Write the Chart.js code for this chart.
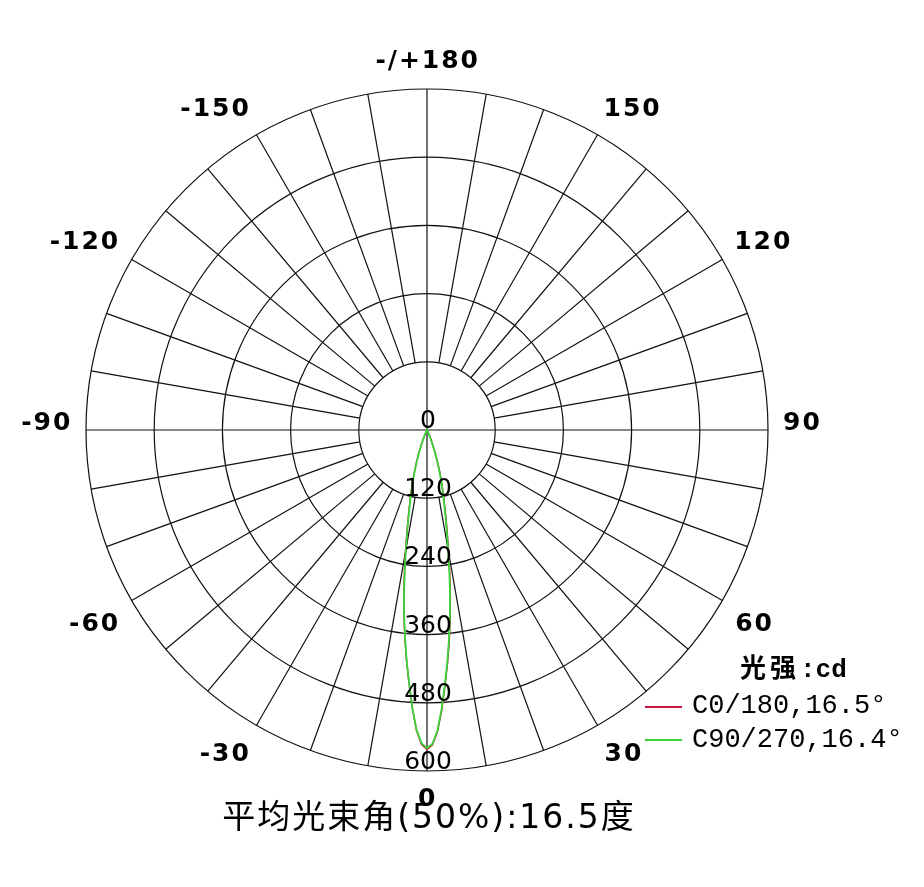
<!DOCTYPE html>
<html>
<head>
<meta charset="utf-8">
<title>配光曲线</title>
<script src="https://cdn.jsdelivr.net/npm/chart.js@4/dist/chart.umd.min.js"></script>
<style>
  html, body { margin: 0; padding: 0; background: #fff; }
  #wrap { position: relative; width: 924px; height: 887px; }
  #wrap canvas { position: absolute; left: 0; top: 0; }
  .txt { position: absolute; white-space: nowrap; color: #000; }
  #title { left: 0; width: 858px; top: 797px; text-align: center; font: 33px/40px "DejaVu Sans", "Noto Sans CJK SC", sans-serif; letter-spacing: 2px; }
  #unit { left: 740px; top: 650px; font: bold 26px/32px "Liberation Mono", "Noto Sans CJK SC", monospace; }
  #unit .cjk { font-family: "Noto Sans CJK SC", sans-serif; font-size: 26px; letter-spacing: 4px; }
  .lg { left: 692px; font: 27px/30px "Liberation Mono", "DejaVu Sans Mono", monospace; }
  .sw { position: absolute; left: 645px; width: 37px; height: 2px; }
</style>
</head>
<body>
<div id="wrap">
  <canvas id="c"></canvas>
  <div class="txt" id="title">平均光束角(50%):16.5度</div>
  <div class="txt" id="unit"><span class="cjk">光强</span>:cd</div>
  <div class="sw" style="top:706px;background:#c8153a;"></div>
  <div class="txt lg" style="top:691px;">C0/180,16.5°</div>
  <div class="sw" style="top:739px;background:#3ad33a;"></div>
  <div class="txt lg" style="top:725px;">C90/270,16.4°</div>
</div>
<script>
// Gamma angles (degrees) at which the intensity was measured
const gammaDeg = [
  -28, -27, -26, -25, -24, -23, -22, -21, -20, -19, -18, -17, -16, -15, -14,
  -13, -12, -11, -10, -9, -8, -7, -6, -5, -4, -3, -2, -1, 0,
  1, 2, 3, 4, 5, 6, 7, 8, 9, 10, 11, 12, 13, 14,
  15, 16, 17, 18, 19, 20, 21, 22, 23, 24, 25, 26, 27, 28
];

// Luminous intensity (cd), C0/180 plane
const c0Candela = [
  1, 2, 3, 6, 9, 14, 20, 28, 37, 48, 60, 73, 87, 102, 118,
  137, 160, 186, 218, 254, 292, 332, 371, 410, 449, 491, 529, 553, 562,
  554, 531, 494, 452, 413, 374, 335, 295, 256, 220, 188, 162, 139, 120,
  104, 89, 75, 61, 49, 38, 29, 21, 15, 10, 6, 4, 2, 1
];

// Luminous intensity (cd), C90/270 plane
const c90Candela = [
  1, 2, 3, 5, 8, 13, 19, 26, 35, 46, 58, 71, 85, 100, 115,
  134, 157, 182, 214, 250, 290, 330, 369, 409, 448, 490, 528, 551, 560,
  552, 529, 491, 449, 410, 370, 331, 291, 251, 215, 183, 158, 135, 116,
  101, 86, 72, 59, 47, 36, 27, 19, 13, 8, 5, 3, 2, 1
];

// Angle labels every 30 degrees, clockwise from the top of the diagram
const angleLabels = ['-/+180', '150', '120', '90', '60', '30', '0', '-30', '-60', '-90', '-120', '-150'];

// Radial tick values (cd)
const radialTicks = [0, 120, 240, 360, 480, 600];

// One radar category per degree; category i sits i degrees clockwise from the top,
// which corresponds to gamma = 180 - i.
const categories = [];
for (let i = 0; i < 360; i++) categories.push(180 - i);

function toSeries(values) {
  return categories.map(g => {
    const k = gammaDeg.indexOf(g);
    return k >= 0 ? values[k] : 0;
  });
}

const polarFrame = {
  id: 'polarFrame',
  beforeDatasetsDraw(chart) {
    const s = chart.scales.r;
    const ctx = chart.ctx;
    const rIn = s.getDistanceFromCenterForValue(radialTicks[1]);
    const rOut = s.getDistanceFromCenterForValue(radialTicks[radialTicks.length - 1]);
    ctx.save();
    ctx.strokeStyle = '#111';
    ctx.lineWidth = 1.2;
    for (let deg = 0; deg < 360; deg += 10) {
      const from = deg % 90 === 0 ? 0 : rIn;
      const a = s.getPointPosition(deg, from);
      const b = s.getPointPosition(deg, rOut);
      ctx.beginPath();
      ctx.moveTo(a.x, a.y);
      ctx.lineTo(b.x, b.y);
      ctx.stroke();
    }
    ctx.restore();
  },
  afterDatasetsDraw(chart) {
    const s = chart.scales.r;
    const ctx = chart.ctx;
    const rOut = s.getDistanceFromCenterForValue(radialTicks[radialTicks.length - 1]);
    ctx.save();
    ctx.fillStyle = '#000';
    ctx.textBaseline = 'alphabetic';

    // angle labels: the corner of each label nearest the circle sits on a ring just outside it
    ctx.font = 'bold 25px "DejaVu Sans"';
    if ('letterSpacing' in ctx) ctx.letterSpacing = '2px';
    const capH = 18;
    angleLabels.forEach((txt, k) => {
      const idx = k * 30;
      const ang = idx * Math.PI / 180;
      const sn = Math.sin(ang), cs = Math.cos(ang);
      const p = s.getPointPosition(idx, rOut + 16);
      const m = ctx.measureText(txt);
      const inkW = m.actualBoundingBoxLeft + m.actualBoundingBoxRight;
      let left;
      if (sn > 0.01) left = p.x;
      else if (sn < -0.01) left = p.x - inkW;
      else left = p.x - inkW / 2;
      let base;
      if (cs >= -0.01) base = p.y - 5 * cs;
      else base = p.y + capH + (Math.abs(sn) > 0.01 ? 4 : 1);
      ctx.textAlign = 'left';
      ctx.fillText(txt, left + m.actualBoundingBoxLeft, base);
    });

    // radial tick labels down the 0 degree axis
    ctx.font = '25px "DejaVu Sans"';
    if ('letterSpacing' in ctx) ctx.letterSpacing = '0px';
    ctx.textAlign = 'center';
    radialTicks.forEach(v => {
      const p = s.getPointPosition(180, s.getDistanceFromCenterForValue(v));
      ctx.fillText(String(v), p.x + 1, p.y - 2);
    });
    ctx.restore();
  }
};

new Chart(document.getElementById('c'), {
  type: 'radar',
  data: {
    labels: categories,
    datasets: [
      {
        label: 'C0/180,16.5°',
        data: toSeries(c0Candela),
        borderColor: '#c8153a',
        borderWidth: 1.5,
        pointRadius: 0,
        fill: false,
        order: 2
      },
      {
        label: 'C90/270,16.4°',
        data: toSeries(c90Candela),
        borderColor: '#3ad33a',
        borderWidth: 1.8,
        pointRadius: 0,
        fill: false,
        order: 1
      }
    ]
  },
  options: {
    responsive: true,
    maintainAspectRatio: false,
    animation: false,
    layout: { padding: { left: 86, right: 156, top: 89, bottom: 116 } },
    plugins: { legend: { display: false }, title: { display: false }, tooltip: { enabled: false } },
    elements: { line: { tension: 0 } },
    scales: {
      r: {
        min: 0,
        max: 600,
        startAngle: 0,
        ticks: { display: false, stepSize: 120 },
        grid: { circular: true, color: '#111', lineWidth: 1.2 },
        angleLines: { display: false },
        pointLabels: { display: false }
      }
    }
  },
  plugins: [polarFrame]
});
</script>
</body>
</html>
